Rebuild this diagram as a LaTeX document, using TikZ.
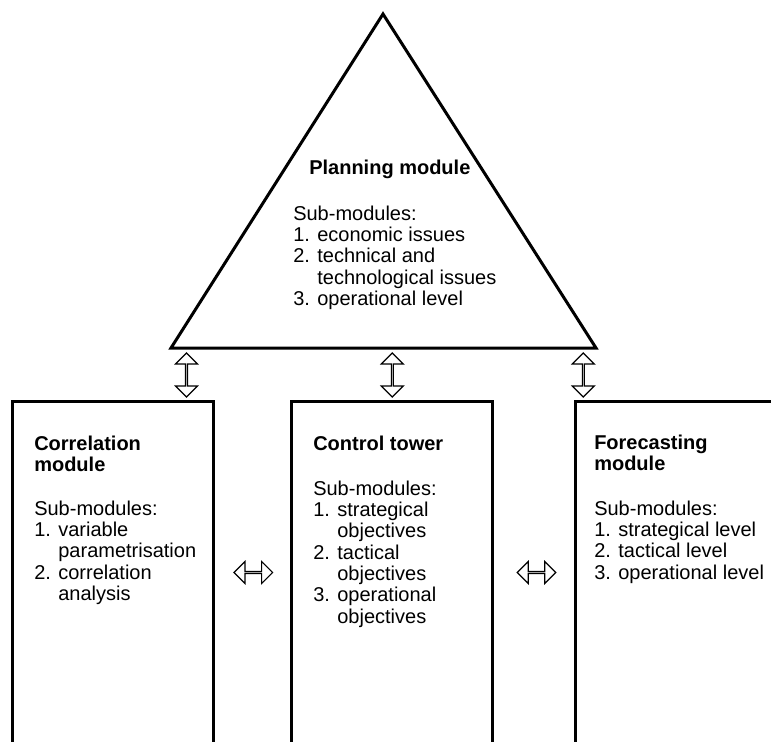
\documentclass[tikz,border=0pt]{standalone}
\usepackage{fontspec}
\setmainfont{Liberation Sans}
\usetikzlibrary{shapes.arrows}
\tikzset{
	modline/.style={black,solid,line width=2.25pt},
	dblarrow/.style={double arrow,draw,black,solid,line width=0.9pt,inner sep=0pt,minimum width=16.5pt,double arrow head extend=4.9pt},
	modtitle/.style={anchor=north west,inner sep=0pt,align=left,font=\fontsize{15}{16}\selectfont\bfseries},
	modlist/.style={anchor=north west,inner sep=0pt,align=left,font=\fontsize{15}{16}\selectfont}
}
\newcommand{\ind}{\hphantom{1. }}
\begin{document}
\begin{tikzpicture}[x=0.75pt,y=-0.75pt]
	\useasboundingbox (0,0) rectangle (771,742);
	\draw[modline] (383,14)--(596,348)--(171,348)--cycle;
	\draw[modline] (12,742)--(12,401)--(213,401)--(213,742);
	\draw[modline] (291.5,742)--(291.5,401)--(492,401)--(492,742);
	\draw[modline] (575,742)--(575,401)--(771,401);
	\node[modtitle] (plantitle) at (309,159.5) {Planning module};
	\node[modlist] (planlist) at (293,205.5) {Sub-modules:\\1. economic issues\\2. technical and\\\ind technological issues\\3. operational level};
	\node[modtitle] (corrtitle) at (34,435.4) {Correlation\\module};
	\node[modlist] (corrlist) at (34,500.4) {Sub-modules:\\1. variable\\\ind parametrisation\\2. correlation\\\ind analysis};
	\node[modtitle] (ctrltitle) at (313,435.4) {Control tower};
	\node[modlist] (ctrllist) at (313,480.4) {Sub-modules:\\1. strategical\\\ind objectives\\2. tactical\\\ind objectives\\3. operational\\\ind objectives};
	\node[modtitle] (fcsttitle) at (594,434.4) {Forecasting\\module};
	\node[modlist] (fcstlist) at (594,500.4) {Sub-modules:\\1. strategical level\\2. tactical level\\3. operational level};
	\node[dblarrow,minimum height=33pt,rotate=90] (arrcorr) at (186.5,375) {};
	\node[dblarrow,minimum height=33pt,rotate=90] (arrctrl) at (392.3,375) {};
	\node[dblarrow,minimum height=33pt,rotate=90] (arrfcst) at (583.3,375) {};
	\node[dblarrow,minimum height=29pt] (arrleft) at (253.3,572.5) {};
	\node[dblarrow,minimum height=29pt] (arrright) at (536.5,572.5) {};
\end{tikzpicture}
\end{document}
